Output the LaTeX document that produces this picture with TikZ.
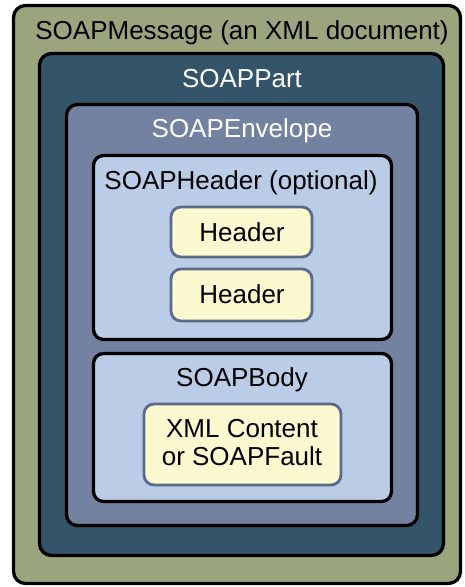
\documentclass[tikz,border=0pt]{standalone}
\usepackage{fontspec}
\setmainfont{Liberation Sans}
\definecolor{cGreen}{HTML}{9AA57E}
\definecolor{cTeal}{HTML}{345569}
\definecolor{cEnv}{HTML}{7282A0}
\definecolor{cLight}{HTML}{BACCE6}
\definecolor{cYellow}{HTML}{FCF8D0}
\definecolor{cYBorder}{HTML}{5A6B87}
\begin{document}
\begin{tikzpicture}[x=1pt,y=-1pt,
  box/.style={draw=black,line width=3.3pt,rounded corners=12pt,inner sep=0pt},
  ybox/.style={draw=cYBorder,fill=cYellow,line width=2.8pt,rounded corners=10pt,inner sep=0pt},
  lbl/.style={anchor=base,inner sep=0pt,font=\fontsize{26}{27}\selectfont},
  wlbl/.style={lbl,text=white}]
\path[use as bounding box,fill=white] (0,0) rectangle (464,587);
% containers
\node[box,fill=cGreen,minimum width=447pt,minimum height=578pt] (msg) at (237,294.5) {};
\node[box,fill=cTeal,minimum width=404pt,minimum height=502pt] (part) at (241.5,304.5) {};
\node[box,fill=cEnv,rounded corners=11pt,minimum width=351pt,minimum height=421pt] (env) at (242,315) {};
\node[box,fill=cLight,rounded corners=10pt,minimum width=298pt,minimum height=184pt] (hdr) at (242.5,247.5) {};
\node[box,fill=cLight,rounded corners=10pt,minimum width=298pt,minimum height=148pt] (body) at (242.5,427.5) {};
% yellow boxes
\node[ybox,minimum width=141pt,minimum height=50pt] (h1) at (241.5,232) {};
\node[ybox,minimum width=141pt,minimum height=52pt] (h2) at (241.5,295) {};
\node[ybox,minimum width=197pt,minimum height=81pt] (xml) at (242.5,444.5) {};
% labels
\node[lbl] (msgl) at (242,39) {SOAPMessage (an XML document)};
\node[wlbl] (partl) at (242,87) {SOAPPart};
\node[wlbl] (envl) at (242,137) {SOAPEnvelope};
\node[lbl] (hdrl) at (241,189) {SOAPHeader (optional)};
\node[lbl] (h1l) at (242,241) {Header};
\node[lbl] (h2l) at (242,303.5) {Header};
\node[lbl] (bodyl) at (242,386) {SOAPBody};
\node[lbl] (xml1) at (242,437.5) {XML Content};
\node[lbl] (xml2) at (242,465) {or SOAPFault};
\end{tikzpicture}
\end{document}
